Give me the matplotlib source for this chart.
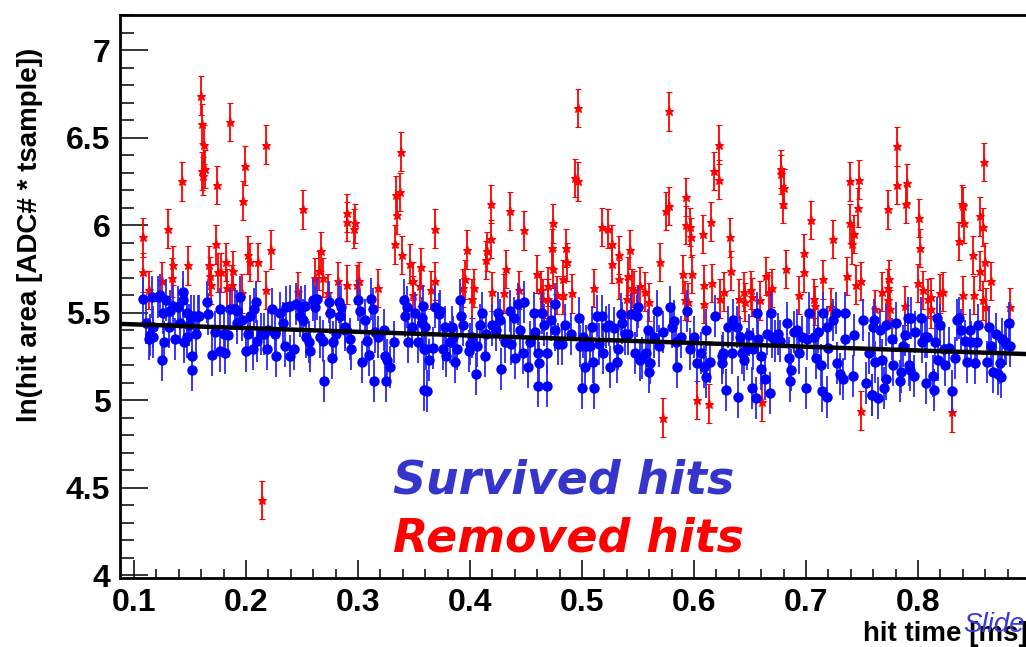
import numpy as np
import matplotlib
matplotlib.use("Agg")
import matplotlib.pyplot as plt
from matplotlib.ticker import MultipleLocator, FormatStrFormatter

plt.rcParams['font.family'] = ['Liberation Sans', 'DejaVu Sans']

# === Data ===
# survived hits (blue)
blue_x = [
    0.108, 0.111, 0.113, 0.114, 0.116, 0.117, 0.117, 0.121, 0.123, 0.125, 0.126, 0.127, 0.129, 0.131, 0.132,
    0.135, 0.137, 0.139, 0.141, 0.144, 0.144, 0.145, 0.147, 0.147, 0.149, 0.151, 0.152, 0.152, 0.154, 0.155,
    0.157, 0.158, 0.165, 0.166, 0.170, 0.172, 0.177, 0.177, 0.180, 0.181, 0.184, 0.186, 0.190, 0.192, 0.192,
    0.195, 0.196, 0.200, 0.202, 0.204, 0.206, 0.207, 0.209, 0.210, 0.213, 0.216, 0.219, 0.220, 0.223,
    0.226, 0.227, 0.230, 0.233, 0.235, 0.236, 0.239, 0.239, 0.243, 0.245, 0.248, 0.249, 0.251, 0.253, 0.254,
    0.256, 0.257, 0.260, 0.262, 0.263, 0.266, 0.269, 0.270, 0.274, 0.275, 0.277, 0.278, 0.280, 0.283, 0.284,
    0.285, 0.288, 0.288, 0.293, 0.294, 0.300, 0.302, 0.304, 0.306, 0.308, 0.310, 0.312, 0.313, 0.314, 0.315,
    0.318, 0.323, 0.324, 0.325, 0.326, 0.329, 0.332, 0.341, 0.342, 0.344, 0.345, 0.348, 0.351, 0.354, 0.357,
    0.359, 0.359,
    0.357, 0.358, 0.360, 0.361, 0.362, 0.363, 0.367, 0.369, 0.372, 0.373, 0.376, 0.378, 0.379, 0.382, 0.384,
    0.385, 0.387, 0.388, 0.391, 0.392, 0.394, 0.399, 0.400, 0.402, 0.405, 0.406, 0.409, 0.411, 0.413, 0.414,
    0.420, 0.423, 0.425, 0.427, 0.428, 0.431, 0.436, 0.437, 0.439, 0.440, 0.443, 0.445, 0.447, 0.448, 0.452,
    0.454, 0.457, 0.458, 0.461, 0.462, 0.461, 0.464, 0.466, 0.469, 0.469, 0.472, 0.476, 0.476, 0.479, 0.482,
    0.485, 0.490,
    0.497, 0.498, 0.500, 0.501, 0.503, 0.504, 0.507, 0.509, 0.510, 0.511, 0.513, 0.515, 0.518, 0.519, 0.521,
    0.524, 0.525, 0.529, 0.531, 0.532, 0.535, 0.536, 0.538, 0.541, 0.544, 0.547, 0.549, 0.550, 0.552, 0.554,
    0.557, 0.559, 0.560, 0.561, 0.564, 0.567, 0.569, 0.572, 0.579, 0.580, 0.582, 0.584, 0.585, 0.588, 0.594,
    0.596, 0.600, 0.603, 0.606, 0.609, 0.611, 0.611, 0.614, 0.619, 0.625, 0.626,
    0.625, 0.629, 0.630, 0.634, 0.635, 0.638, 0.639, 0.641, 0.643, 0.645, 0.647, 0.649, 0.652, 0.653, 0.655,
    0.656, 0.657, 0.660, 0.660, 0.663, 0.665, 0.668, 0.669, 0.670, 0.672, 0.675, 0.677, 0.683, 0.685, 0.686,
    0.687, 0.689, 0.692, 0.694, 0.696, 0.700, 0.701, 0.703, 0.707, 0.709, 0.711, 0.713, 0.714, 0.715, 0.719,
    0.719, 0.720, 0.724, 0.727, 0.728, 0.730, 0.733, 0.735, 0.735, 0.742, 0.743, 0.751, 0.754, 0.756, 0.759,
    0.760,
    0.759, 0.761, 0.762, 0.764, 0.766, 0.768, 0.770, 0.771, 0.771, 0.777, 0.778, 0.780, 0.784, 0.785, 0.787,
    0.788, 0.791, 0.792, 0.793, 0.794, 0.796, 0.797, 0.803, 0.804, 0.806, 0.807, 0.808, 0.813, 0.814, 0.815,
    0.817, 0.818, 0.820, 0.823, 0.824, 0.828, 0.830, 0.833, 0.835, 0.837, 0.838, 0.842, 0.844, 0.846, 0.847,
    0.851, 0.853, 0.854, 0.862, 0.863, 0.865, 0.867, 0.870, 0.871, 0.873, 0.874, 0.875, 0.878, 0.879, 0.881,
    0.882,
]
blue_y = [
    5.58, 5.44, 5.35, 5.37, 5.59, 5.42, 5.36, 5.59, 5.60, 5.23, 5.50, 5.33, 5.57, 5.42, 5.51,
    5.54, 5.35, 5.53, 5.44, 5.62, 5.57, 5.33, 5.36, 5.50, 5.43, 5.48, 5.25, 5.17, 5.48, 5.38,
    5.48, 5.48, 5.56, 5.49, 5.26, 5.39, 5.52, 5.28, 5.38, 5.27, 5.37, 5.52, 5.52, 5.44, 5.51,
    5.59, 5.46, 5.28, 5.38, 5.48, 5.29, 5.52, 5.56, 5.34, 5.38, 5.38, 5.29, 5.40, 5.52,
    5.38, 5.25, 5.50, 5.44, 5.31, 5.53, 5.25, 5.54, 5.29, 5.55, 5.48, 5.53, 5.46, 5.54, 5.36,
    5.33, 5.28, 5.57, 5.53, 5.58, 5.36, 5.34, 5.11, 5.56, 5.50, 5.24, 5.33, 5.38, 5.56, 5.48,
    5.53, 5.42, 5.40, 5.35, 5.29, 5.57, 5.51, 5.22, 5.46, 5.34, 5.26, 5.58, 5.52, 5.11, 5.39,
    5.36, 5.40, 5.25, 5.11, 5.23, 5.19, 5.33, 5.57, 5.48, 5.53, 5.33, 5.42, 5.50, 5.33, 5.44,
    5.29, 5.06,
    5.47, 5.54, 5.42, 5.29, 5.05, 5.23, 5.30, 5.53, 5.49, 5.51, 5.29, 5.42, 5.25, 5.33, 5.42,
    5.36, 5.22, 5.29, 5.57, 5.48, 5.43, 5.28, 5.32, 5.36, 5.15, 5.31, 5.43, 5.50, 5.25, 5.38,
    5.43, 5.40, 5.50, 5.46, 5.18, 5.33, 5.51, 5.32, 5.47, 5.24, 5.55, 5.40, 5.27, 5.56, 5.19,
    5.33, 5.50, 5.39, 5.27, 5.21, 5.08, 5.50, 5.43, 5.27, 5.08, 5.46, 5.40, 5.55, 5.32, 5.32,
    5.43, 5.38,
    5.47, 5.31, 5.07, 5.36, 5.19, 5.31, 5.31, 5.42, 5.22, 5.07, 5.48, 5.32, 5.48, 5.27, 5.42,
    5.43, 5.19, 5.41, 5.22, 5.29, 5.49, 5.44, 5.38, 5.38, 5.49, 5.27, 5.48, 5.53, 5.23, 5.24,
    5.27, 5.40, 5.16, 5.21, 5.36, 5.51, 5.31, 5.39, 5.53, 5.42, 5.45, 5.33, 5.19, 5.36, 5.51,
    5.29, 5.36, 5.21, 5.27, 5.19, 5.40, 5.13, 5.22, 5.48, 5.21, 5.27,
    5.25, 5.06, 5.42, 5.27, 5.46, 5.42, 5.02, 5.36, 5.27, 5.23, 5.29, 5.37, 5.07, 5.29, 5.01,
    5.50, 5.35, 5.25, 5.18, 5.12, 5.38, 5.04, 5.50, 5.36, 5.34, 5.38, 5.34, 5.44, 5.24, 5.11,
    5.17, 5.39, 5.40, 5.27, 5.36, 5.07, 5.35, 5.50, 5.36, 5.24, 5.39, 5.20, 5.05, 5.50, 5.02,
    5.42, 5.30, 5.46, 5.50, 5.21, 5.15, 5.12, 5.50, 5.35, 5.14, 5.37, 5.46, 5.10, 5.27, 5.03,
    5.42,
    5.03, 5.46, 5.22, 5.01, 5.40, 5.23, 5.07, 5.43, 5.12, 5.35, 5.20, 5.44, 5.11, 5.16, 5.31,
    5.37, 5.47, 5.20, 5.17, 5.47, 5.14, 5.39, 5.47, 5.33, 5.36, 5.10, 5.36, 5.14, 5.06, 5.33,
    5.47, 5.23, 5.43, 5.29, 5.20, 5.30, 5.05, 5.24, 5.46, 5.47, 5.40, 5.34, 5.22, 5.40, 5.33,
    5.21, 5.33, 5.43, 5.22, 5.42, 5.31, 5.16, 5.38, 5.15, 5.21, 5.13, 5.35, 5.33, 5.32, 5.44,
    5.31,
]
blue_err = 0.12

# removed hits (red)
red_x = [
    0.108, 0.108, 0.113, 0.125, 0.130, 0.134, 0.135, 0.143, 0.148, 0.160, 0.161, 0.1625, 0.161, 0.163, 0.162,
    0.167, 0.168, 0.169, 0.173, 0.174, 0.175, 0.178, 0.182, 0.183, 0.186, 0.188, 0.1875, 0.196, 0.197, 0.199,
    0.2015, 0.204, 0.211, 0.2146, 0.2175, 0.2175, 0.2225, 0.2465, 0.251, 0.2616, 0.2655, 0.2667, 0.2685,
    0.2735, 0.2818, 0.2905, 0.2905, 0.2905, 0.2965, 0.297, 0.299, 0.301, 0.3175, 0.3333, 0.334, 0.335,
    0.3375, 0.3384, 0.339, 0.3464, 0.3494, 0.3488, 0.3554, 0.3563, 0.365, 0.369, 0.369, 0.3935, 0.3955,
    0.397, 0.4015, 0.404, 0.414, 0.415, 0.419, 0.419, 0.420, 0.430, 0.432, 0.4357, 0.4435, 0.448, 0.4595,
    0.4634, 0.465, 0.4696, 0.470, 0.473, 0.4744, 0.474, 0.478, 0.483, 0.483, 0.4857, 0.487, 0.491, 0.494,
    0.496, 0.496, 0.511, 0.518, 0.523, 0.527, 0.527, 0.533, 0.5333, 0.540, 0.5407, 0.543, 0.545, 0.546,
    0.552, 0.556, 0.5595, 0.5696, 0.5723, 0.5753, 0.5774, 0.578, 0.5905, 0.5917, 0.5926, 0.5926, 0.595,
    0.5964, 0.597, 0.5985, 0.6024, 0.608, 0.609, 0.609, 0.613, 0.615, 0.6163, 0.6176, 0.6223, 0.6223,
    0.623, 0.627, 0.632, 0.633, 0.640, 0.645, 0.6458, 0.651, 0.6515, 0.659, 0.661, 0.664, 0.6667, 0.670,
    0.6777, 0.6777, 0.6795, 0.680, 0.682, 0.6934, 0.6985, 0.6985, 0.7048, 0.707, 0.708, 0.715, 0.7223,
    0.724, 0.737, 0.7393, 0.7396, 0.741, 0.7426, 0.7444, 0.7467, 0.7476, 0.749, 0.7494, 0.762, 0.7676,
    0.7732, 0.7735, 0.7735, 0.774, 0.775, 0.7813, 0.7813, 0.7884, 0.7896, 0.790, 0.800, 0.801, 0.8018,
    0.8047, 0.809, 0.8116, 0.812, 0.8196, 0.822, 0.830, 0.8369, 0.8393, 0.840, 0.8405, 0.8414, 0.8494,
    0.8503, 0.8554, 0.8556, 0.8578, 0.858, 0.8592, 0.860, 0.861, 0.8655, 0.8824,
]
red_y = [
    5.93, 5.73, 5.63, 5.68, 5.98, 5.70, 5.77, 6.25, 5.77, 6.74, 6.58, 6.46, 6.31, 6.32, 6.28,
    5.77, 5.71, 5.66, 5.89, 6.23, 5.73, 5.73, 5.79, 5.64, 6.59, 5.74, 5.66, 5.61, 6.14, 6.34,
    5.83, 5.79, 5.79, 4.43, 6.46, 5.63, 5.86, 5.62, 6.09, 5.70, 5.74, 5.85, 5.70,
    5.61, 5.68, 6.07, 6.02, 5.66, 5.98, 6.01, 5.66, 5.68, 5.64, 5.89, 6.17, 6.06,
    6.19, 6.42, 5.83, 5.78, 5.68, 5.60, 5.65, 5.76, 5.63, 5.98, 5.68, 5.64, 5.69,
    5.86, 5.58, 5.64, 5.80, 5.85, 6.12, 5.92, 5.62, 5.61, 5.75, 6.08, 5.63, 5.97, 5.72,
    5.63, 5.58, 5.65, 5.58, 5.87, 6.01, 5.75, 5.60, 5.69, 5.60, 5.87, 5.79, 5.61, 6.27,
    6.25, 6.67, 5.64, 5.99, 5.98, 5.89, 5.78, 5.69, 5.83, 5.58, 5.71, 5.86, 5.64, 5.63,
    5.65, 5.62, 5.56, 5.79, 4.90, 6.08, 6.65, 6.11, 5.72, 5.57, 6.16, 6.00, 5.56,
    5.99, 5.93, 5.72, 5.00, 5.95, 5.66, 5.55, 4.98, 6.02, 5.67, 6.31, 6.46, 6.26,
    5.58, 5.62, 5.93, 5.74, 5.58, 5.62, 5.56, 5.63, 5.59, 5.57, 4.99, 5.71, 5.62, 5.64,
    6.32, 6.29, 6.12, 6.21, 5.75, 5.60, 5.84, 5.73, 6.03, 5.58, 5.54, 5.69, 5.53,
    5.92, 5.71, 6.25, 6.01, 5.89, 5.95, 5.66, 6.10, 6.26, 5.68, 4.94, 5.52, 5.62,
    6.09, 5.64, 5.57, 5.69, 5.52, 6.45, 6.23, 5.54, 6.12, 6.24, 5.67, 6.04, 5.87,
    5.63, 5.58, 5.52, 5.59, 5.61, 5.62, 4.93, 5.91, 6.12, 5.60, 6.11, 6.01, 5.83,
    5.60, 6.05, 5.74, 5.57, 5.99, 6.36, 5.79, 5.53, 5.68, 5.53,
]
red_err = 0.11

# linear fit to survived hits
fit_x = [0.0875, 0.90]
fit_y = [5.435, 5.262]

# === Plot ===
fig = plt.figure(figsize=(10.26, 6.47), dpi=100)
ax = fig.add_axes([120 / 1026, 69 / 647, 910 / 1026, 563 / 647])

ax.errorbar(red_x, red_y, yerr=red_err, fmt='*', color='red', ms=6.5, mew=0.8,
            elinewidth=1.3, capsize=2.5, capthick=1.3, zorder=2)
ax.errorbar(blue_x, blue_y, yerr=blue_err, fmt='o', color='blue', ms=7.5, mew=0,
            elinewidth=1.3, capsize=2.5, capthick=1.3, ecolor=(0.15, 0.15, 1.0), zorder=3)
ax.plot(fit_x, fit_y, color='black', linewidth=3.2, zorder=4)

ax.set_xlim(0.0875, 0.90)
ax.set_ylim(3.983, 7.2)

ax.set_xticks([0.1, 0.2, 0.3, 0.4, 0.5, 0.6, 0.7, 0.8])
ax.xaxis.set_minor_locator(MultipleLocator(0.02))
ax.yaxis.set_major_locator(MultipleLocator(0.5))
ax.yaxis.set_minor_locator(MultipleLocator(0.1))
ax.xaxis.set_major_formatter(FormatStrFormatter('%g'))
ax.yaxis.set_major_formatter(FormatStrFormatter('%g'))

ax.tick_params(axis='both', which='both', direction='in', top=False, right=False, width=1.1, color='black')
ax.tick_params(axis='y', which='major', length=20, pad=7)
ax.tick_params(axis='y', which='minor', length=10)
ax.tick_params(axis='x', which='major', length=13, pad=7)
ax.tick_params(axis='x', which='minor', length=6.5)
for lab in ax.get_xticklabels() + ax.get_yticklabels():
    lab.set_fontsize(23)
    lab.set_fontweight('bold')

for side in ['left', 'bottom', 'top', 'right']:
    ax.spines[side].set_linewidth(2)

# axis titles
fig.text(30 / 1026, 1 - 235 / 647, "ln(hit area [ADC# * tsample])", rotation=90,
         ha='center', va='center', fontsize=20, fontweight='bold')
fig.text(863 / 1026, 1 - 641 / 647, "hit time [ms]", ha='left', va='baseline',
         fontsize=20, fontweight='bold')
fig.text(963 / 1026, 1 - 632 / 647, "Slide", ha='left', va='baseline',
         fontsize=20, fontstyle='italic', color='#3a3ad6')

# legend-like labels
fig.text(393 / 1026, 1 - 493 / 647, "Survived hits", ha='left', va='baseline',
         fontsize=33, fontstyle='italic', fontweight='bold', color='#3535cc',
         family=['DejaVu Sans'])
fig.text(393 / 1026, 1 - 552 / 647, "Removed hits", ha='left', va='baseline',
         fontsize=33, fontstyle='italic', fontweight='bold', color='#ff0000',
         family=['DejaVu Sans'])

fig.savefig("out.png", dpi=100)
